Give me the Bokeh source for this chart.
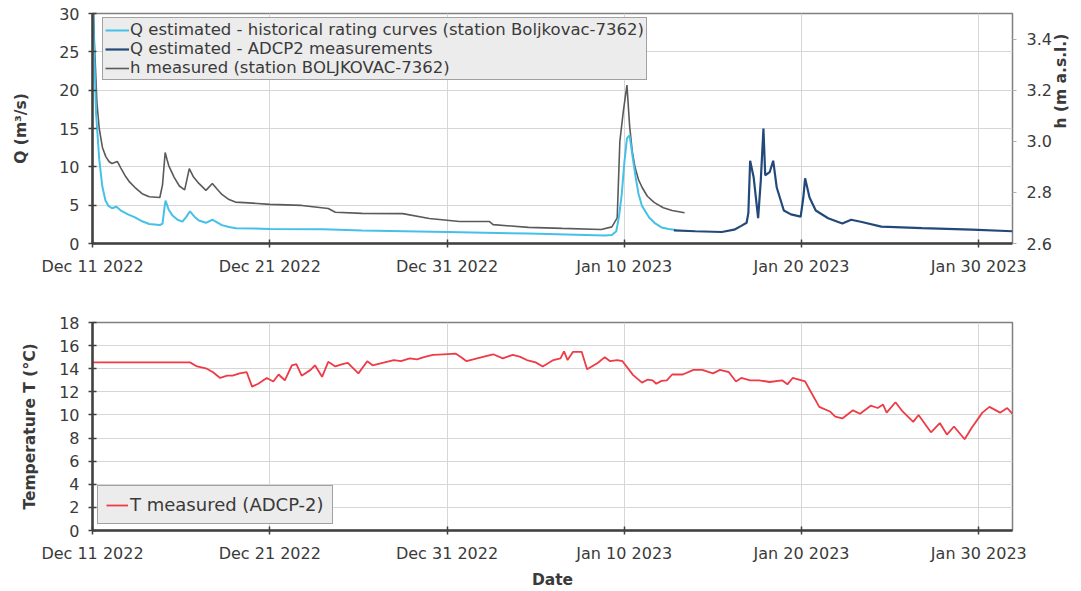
import math
import pandas as pd
from bokeh.plotting import figure
from bokeh.models import (LinearAxis, Range1d, FixedTicker, DatetimeTickFormatter,
                          PrintfTickFormatter, Legend, LegendItem)
from bokeh.layouts import column
from bokeh.embed import file_html
from bokeh.resources import INLINE

# ---- data (time given as days since the start date) ----
START = "2022-12-11"
END_DAY = 51.9
tick_dates = ["2022-12-11", "2022-12-21", "2022-12-31", "2023-01-10", "2023-01-20", "2023-01-30"]

q_hist_day = [0.0, 0.08, 0.2, 0.38, 0.55, 0.73, 0.9, 1.1, 1.35, 1.6, 2.0, 2.4, 2.8, 3.2, 3.8,
              3.95, 4.05, 4.12, 4.3, 4.5, 4.8, 5.07, 5.3, 5.5, 5.75, 6.0, 6.4, 6.76, 7.0,
              7.3, 7.7, 8.1, 10.0, 13.0, 15.2, 20.0, 24.6, 28.9, 29.3, 29.55, 29.7, 29.86,
              30.0, 30.15, 30.3, 30.5, 30.65, 30.8, 31.0, 31.4, 31.7, 32.1, 32.5, 32.9]
q_hist = [34, 26, 17, 11, 7.5, 5.6, 4.9, 4.6, 4.8, 4.3, 3.8, 3.4, 2.9, 2.55, 2.4,
          2.6, 4.5, 5.6, 4.4, 3.7, 3.1, 2.85, 3.5, 4.2, 3.5, 3.0, 2.7, 3.1, 2.8,
          2.4, 2.15, 2.0, 1.9, 1.85, 1.7, 1.5, 1.3, 1.05, 1.1, 1.6, 3.5, 6.5,
          10.5, 13.7, 14.1, 10.8, 8.5, 6.5, 4.9, 3.4, 2.7, 2.1, 1.9, 1.75]

q_adcp_day = [32.8, 34.0, 35.5, 36.2, 36.6, 36.9, 37.0, 37.1, 37.3, 37.55, 37.7, 37.85, 37.95,
              38.2, 38.4, 38.6, 39.0, 39.4, 39.95, 40.1, 40.2, 40.45, 40.8, 41.5, 42.3, 42.6,
              42.8, 43.4, 44.5, 46.8, 49.6, 51.9]
q_adcp = [1.7, 1.6, 1.5, 1.8, 2.3, 2.7, 4.0, 10.8, 8.6, 3.3, 8.2, 15.0, 8.9,
          9.3, 10.8, 7.3, 4.3, 3.8, 3.5, 6.0, 8.5, 6.0, 4.3, 3.3, 2.6, 2.9,
          3.1, 2.8, 2.2, 2.0, 1.8, 1.6]

h_day = [0.0, 0.1, 0.25, 0.38, 0.56, 0.75, 0.94, 1.1, 1.4, 1.6, 1.87, 2.1, 2.4, 2.8, 3.2,
         3.8, 3.95, 4.1, 4.2, 4.3, 4.6, 4.9, 5.2, 5.46, 5.7, 6.0, 6.4, 6.76, 7.0, 7.3,
         7.7, 8.06, 8.8, 10.0, 11.8, 13.3, 13.7, 15.2, 17.5, 19.0, 20.7, 22.4, 22.6, 24.6,
         26.5, 28.7, 29.3, 29.6, 29.75, 29.95, 30.15, 30.3, 30.45, 30.6, 30.8, 31.0, 31.3,
         31.7, 32.2, 32.7, 33.4]
h_meas = [3.7, 3.4, 3.15, 3.05, 2.976, 2.94, 2.92, 2.913, 2.921, 2.895, 2.862, 2.84, 2.819,
          2.795, 2.783, 2.78, 2.83, 2.956, 2.93, 2.905, 2.86, 2.825, 2.81, 2.893, 2.86, 2.835,
          2.808, 2.835, 2.815, 2.792, 2.772, 2.762, 2.759, 2.753, 2.749, 2.737, 2.722, 2.718,
          2.717, 2.698, 2.686, 2.686, 2.674, 2.663, 2.659, 2.655, 2.665, 2.7, 3.0, 3.12, 3.22,
          3.06, 2.96, 2.9, 2.85, 2.82, 2.785, 2.76, 2.74, 2.729, 2.72]

t_day = [0, 5.5, 5.9, 6.45, 6.8, 7.2, 7.6, 7.9, 8.3, 8.7, 9.0, 9.35, 9.83, 10.2, 10.5, 10.85,
         11.25, 11.5, 11.8, 12.3, 12.55, 12.95, 13.3, 13.7, 14.1, 14.4, 15.0, 15.5, 15.8,
         16.2, 16.6, 17.0, 17.4, 17.9, 18.3, 18.7, 19.2, 19.8, 20.5, 20.8, 21.1, 21.7, 22.2,
         22.6, 23.15, 23.7, 24.1, 24.5, 25.0, 25.4, 26.0, 26.4, 26.6, 26.8, 27.1, 27.6,
         27.9, 28.5, 28.9, 29.2, 29.6, 29.9, 30.5, 31.0, 31.3, 31.6, 31.8, 32.1, 32.4, 32.7,
         33.3, 33.9, 34.4, 35.0, 35.4, 35.9, 36.3, 36.6, 37.1, 37.6, 38.2, 38.9, 39.2,
         39.5, 40.2, 40.45, 41.0, 41.6, 41.9, 42.3, 42.9, 43.3, 43.9, 44.3, 44.6, 44.8,
         45.3, 45.7, 46.3, 46.6, 47.3, 47.8, 48.2, 48.6, 49.2, 49.6, 50.2, 50.6, 51.2,
         51.6, 51.9]
t_meas = [14.55, 14.55, 14.2, 14.0, 13.7, 13.2, 13.4, 13.4, 13.6, 13.7, 12.45, 12.7, 13.2,
          12.9, 13.5, 13.0, 14.3, 14.4, 13.4, 13.9, 14.3, 13.3, 14.6, 14.2, 14.4, 14.5,
          13.6, 14.65, 14.3, 14.45, 14.6, 14.75, 14.65, 14.9, 14.8, 15.0, 15.2, 15.25,
          15.3, 15.0, 14.65, 14.9, 15.1, 15.25, 14.9, 15.2, 15.05, 14.75, 14.55, 14.2,
          14.75, 14.9, 15.5, 14.75, 15.45, 15.45, 13.95, 14.5, 15.0, 14.65, 14.75, 14.65,
          13.45, 12.8, 13.05, 13.0, 12.7, 12.95, 13.0, 13.5, 13.5, 13.9, 13.9, 13.6, 13.9,
          13.7, 12.9, 13.2, 13.0, 13.0, 12.85, 13.0, 12.65, 13.2, 12.9, 12.2, 10.7, 10.3,
          9.85, 9.7, 10.4, 10.1, 10.8, 10.6, 10.9, 10.2, 11.1, 10.3, 9.4, 10.0, 8.5, 9.3,
          8.3, 9.0, 7.9, 8.9, 10.2, 10.7, 10.2, 10.6, 10.1]

q_ticks = [0, 5, 10, 15, 20, 25, 30]
h_ticks = [2.6, 2.8, 3.0, 3.2, 3.4]
t_ticks = [0, 2, 4, 6, 8, 10, 12, 14, 16, 18]

T0 = pd.Timestamp(START)


def to_dates(days):
    return [T0 + pd.Timedelta(days=d) for d in days]


x_range = Range1d(T0, T0 + pd.Timedelta(days=END_DAY))
date_tick_ms = [pd.Timestamp(d).value / 1e6 for d in tick_dates]

FONT = "DejaVu Sans"
TXT = "#3a3a3a"
GRID = "#d6d6d6"
fmt = "%b %d %Y"
date_fmt = DatetimeTickFormatter(days=fmt, months=fmt, years=fmt, hours=fmt,
                                 minutes=fmt, seconds=fmt, milliseconds=fmt,
                                 microseconds=fmt, hourmin=fmt, minsec=fmt)


def style(p, xticks, yticks):
    p.outline_line_color = "#7f7f7f"
    p.outline_line_width = 1.5
    p.background_fill_color = "white"
    p.border_fill_color = "white"
    xt = FixedTicker(ticks=xticks)
    yt = FixedTicker(ticks=yticks)
    p.xaxis.ticker = xt
    p.xgrid.ticker = xt
    p.yaxis.ticker = yt
    p.ygrid.ticker = yt
    p.xaxis.formatter = date_fmt
    for ax in (p.xaxis[0], p.yaxis[0]):
        ax.axis_line_color = "#404040"
        ax.axis_line_width = 2.5
        ax.major_tick_line_color = "#404040"
        ax.major_tick_line_width = 1.5
        ax.major_tick_in = 4
        ax.major_tick_out = 4
        ax.minor_tick_line_color = None
        ax.major_label_text_font = FONT
        ax.major_label_text_font_size = "16px"
        ax.major_label_text_color = TXT
        ax.major_label_standoff = 9
        ax.axis_label_text_font = FONT
        ax.axis_label_text_font_size = "15.5px"
        ax.axis_label_text_font_style = "bold"
        ax.axis_label_text_color = TXT
    for g in (p.xgrid[0], p.ygrid[0]):
        g.grid_line_color = GRID
        g.grid_line_width = 1


# ---- upper panel: discharge and water level ----
top = figure(width=1081, height=290, x_axis_type="datetime", x_range=x_range,
             y_range=Range1d(0, 30), output_backend="svg", toolbar_location=None,
             min_border_left=90, min_border_right=69, min_border_top=13, min_border_bottom=47)
style(top, date_tick_ms, q_ticks)
top.yaxis.axis_label = "Q (m³/s)"
top.yaxis.axis_label_standoff = 26

top.extra_y_ranges = {"h": Range1d(2.6, 3.5)}
h_axis = LinearAxis(y_range_name="h", axis_label="h (m a.s.l.)",
                    ticker=FixedTicker(ticks=h_ticks),
                    formatter=PrintfTickFormatter(format="%.1f"))
h_axis.axis_line_color = None
h_axis.major_tick_line_color = "#b0b0b0"
h_axis.major_tick_in = 0
h_axis.major_tick_out = 4
h_axis.minor_tick_line_color = None
h_axis.major_label_text_font = FONT
h_axis.major_label_text_font_size = "16px"
h_axis.major_label_text_color = TXT
h_axis.major_label_standoff = 10
h_axis.axis_label_text_font = FONT
h_axis.axis_label_text_font_size = "15.5px"
h_axis.axis_label_text_font_style = "bold"
h_axis.axis_label_text_color = TXT
h_axis.axis_label_standoff = 6
if "axis_label_orientation" in h_axis.properties():
    h_axis.axis_label_orientation = math.pi / 2
top.add_layout(h_axis, "right")

r_h = top.line(to_dates(h_day), h_meas, y_range_name="h", line_color="#5a5a5a", line_width=1.6)
r_qh = top.line(to_dates(q_hist_day), q_hist, line_color="#45c0e8", line_width=2)
r_qa = top.line(to_dates(q_adcp_day), q_adcp, line_color="#23497a", line_width=2.2)

leg = Legend(items=[LegendItem(label="Q estimated - historical rating curves (station Boljkovac-7362)", renderers=[r_qh]),
                    LegendItem(label="Q estimated - ADCP2 measurements", renderers=[r_qa]),
                    LegendItem(label="h measured (station BOLJKOVAC-7362)", renderers=[r_h])],
             location=(10, 163))
leg.label_text_font = FONT
leg.label_text_font_size = "16.5px"
leg.label_text_color = TXT
leg.glyph_width = 24
leg.glyph_height = 16
leg.label_height = 16
leg.label_standoff = 1
leg.padding = 2
leg.spacing = 0
leg.margin = 0
leg.border_line_color = "#555555"
leg.border_line_width = 1.5
leg.background_fill_color = "#ececec"
leg.background_fill_alpha = 1
top.add_layout(leg)

# ---- lower panel: water temperature ----
bot = figure(width=1081, height=301, x_axis_type="datetime", x_range=x_range,
             y_range=Range1d(0, 18), output_backend="svg", toolbar_location=None,
             min_border_left=92, min_border_right=66, min_border_top=32, min_border_bottom=56)
style(bot, date_tick_ms, t_ticks)
bot.yaxis.axis_label = "Temperature T (°C)"
bot.yaxis.axis_label_standoff = 17
bot.xaxis.axis_label = "Date"
bot.xaxis.axis_label_standoff = 5

r_t = bot.line(to_dates(t_day), t_meas, line_color="#ee3b46", line_width=1.8)
leg2 = Legend(items=[LegendItem(label="T measured (ADCP-2)", renderers=[r_t])], location=(5, 6))
leg2.label_text_font = FONT
leg2.label_text_font_size = "18px"
leg2.label_text_color = TXT
leg2.glyph_width = 22
leg2.label_standoff = 2
leg2.padding = 8
leg2.margin = 0
leg2.border_line_color = "#555555"
leg2.border_line_width = 1.5
leg2.background_fill_color = "#ececec"
leg2.background_fill_alpha = 1
bot.add_layout(leg2)

layout = column(top, bot, spacing=0)
open("out.html", "w").write(file_html(layout, INLINE))
